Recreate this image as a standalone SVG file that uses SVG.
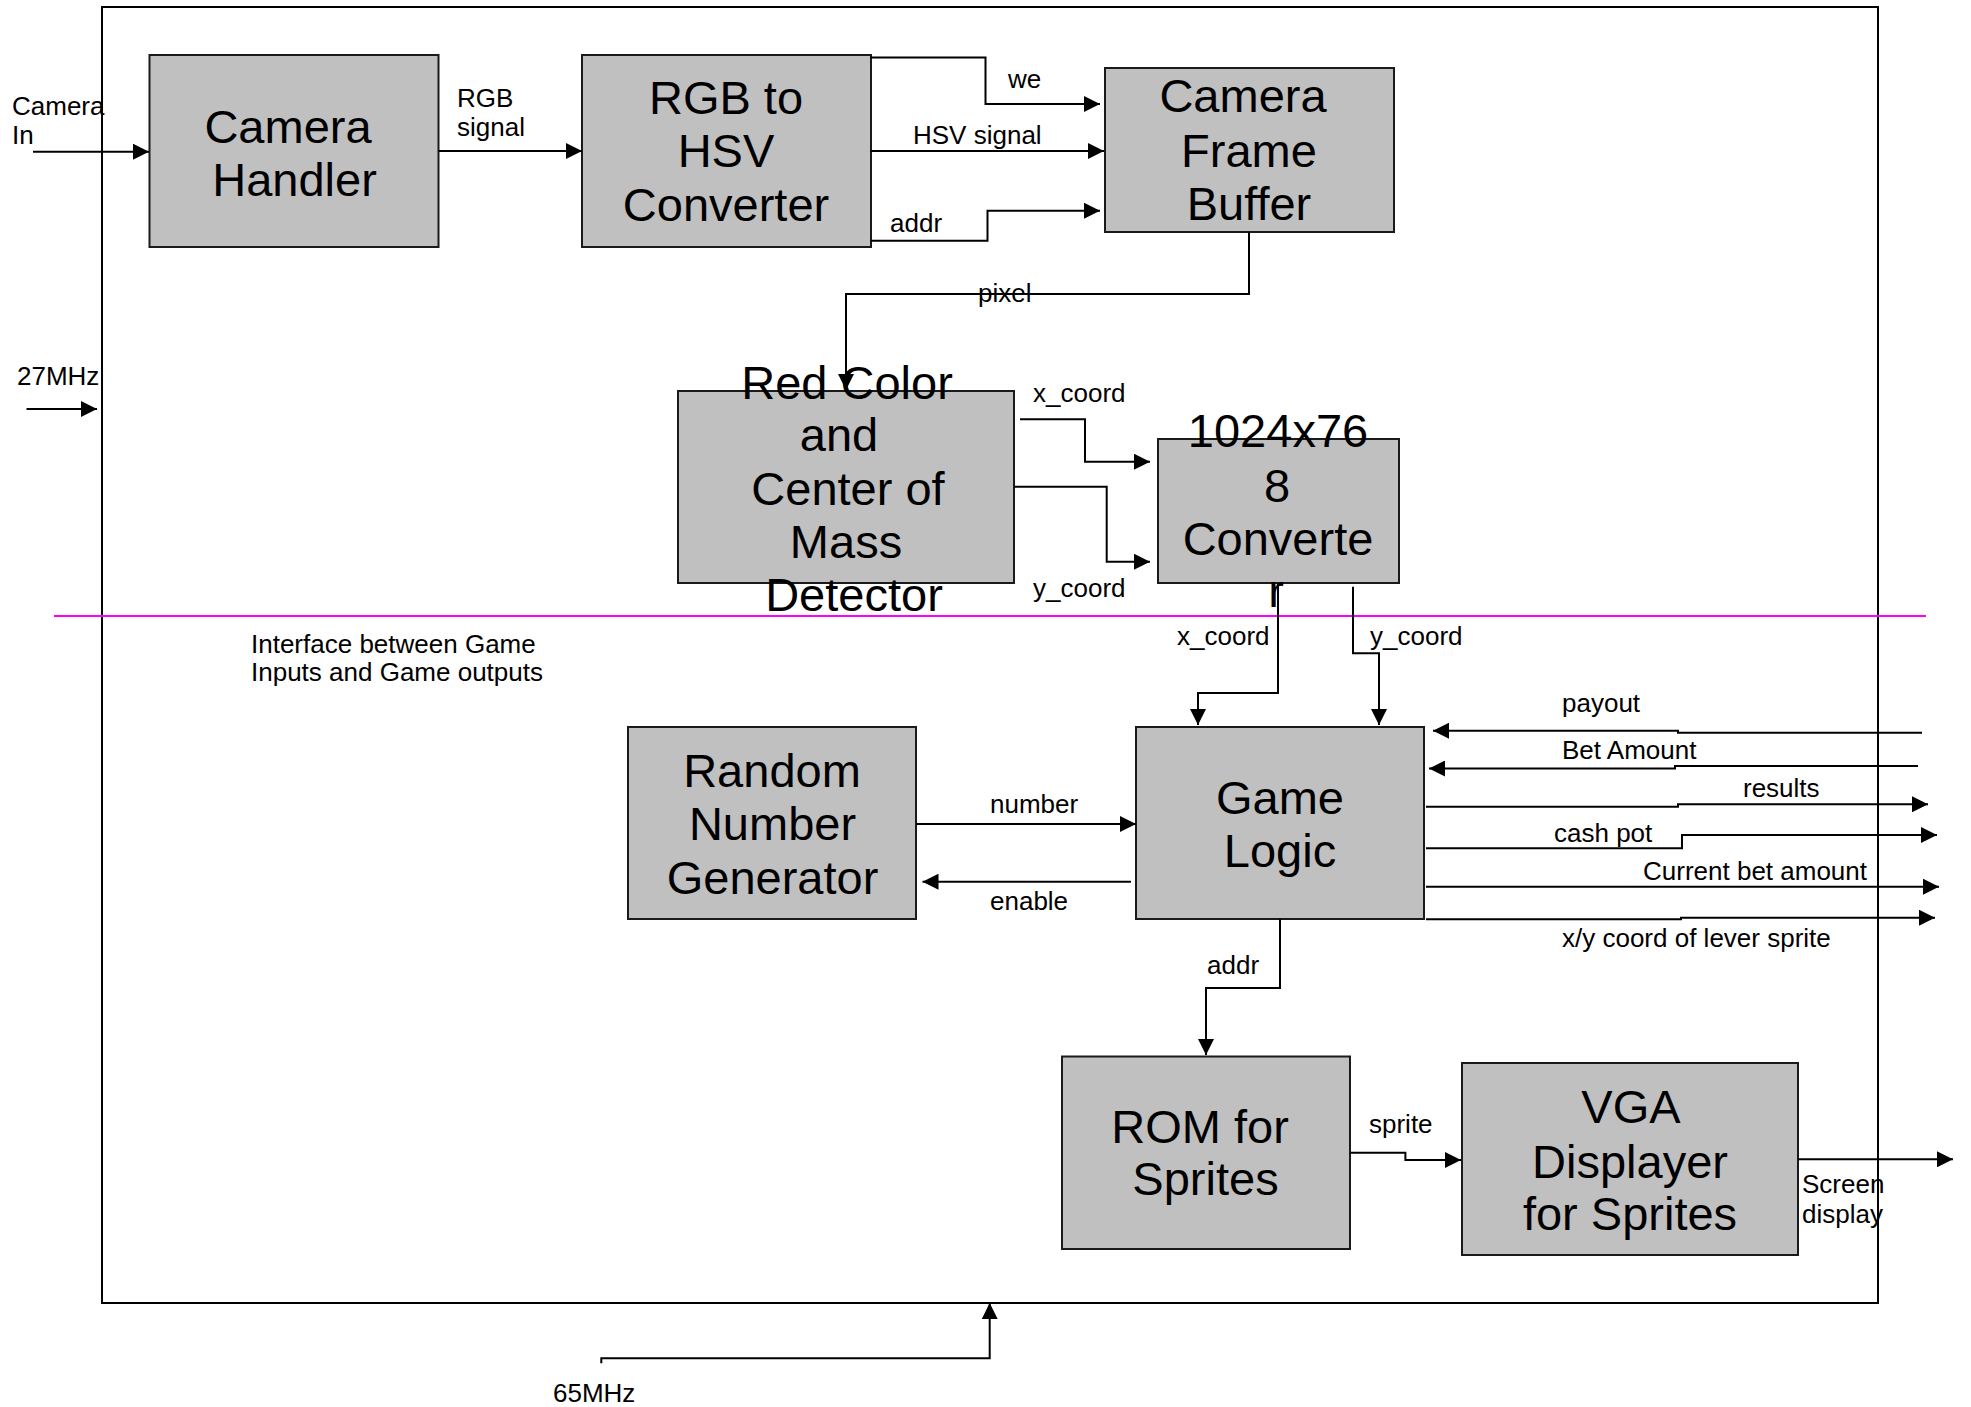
<svg xmlns="http://www.w3.org/2000/svg" width="1971" height="1407" viewBox="0 0 1971 1407">
<style>
.box{fill:#c0c0c0;stroke:#1a1a1a;stroke-width:2}
.big{font-family:"Liberation Sans",Arial,sans-serif;font-size:47px;fill:#000;text-anchor:middle}
.lbl{font-family:"Liberation Sans",Arial,sans-serif;font-size:26px;fill:#000}
.wire{fill:none;stroke:#000;stroke-width:2}
.arr{marker-end:url(#ah)}
</style>
<defs>
<marker id="ah" markerUnits="userSpaceOnUse" markerWidth="16" markerHeight="16" refX="15" refY="7.5" orient="auto" viewBox="0 0 15 15">
<path d="M0,0 L15,7.5 L0,15 z" fill="#000"/>
</marker>
</defs>
<rect width="1971" height="1407" fill="#fff"/>
<g id="frame">
<rect x="102" y="7" width="1776" height="1296" fill="none" stroke="#000" stroke-width="2"/>
</g>
<g id="divider">
<line x1="54" y1="616" x2="1926" y2="616" stroke="#ff00ff" stroke-width="2"/>
<text class="lbl" x="251" y="653">Interface between Game</text>
<text class="lbl" x="251" y="681">Inputs and Game outputs</text>
</g>
<g id="camera-handler">
<rect class="box" x="149.5" y="55" width="289" height="192"/>
<text class="big" x="288" y="143">Camera</text>
<text class="big" x="294.5" y="195.5">Handler</text>
</g>
<g id="rgb-hsv">
<rect class="box" x="582" y="55" width="289" height="192"/>
<text class="big" x="726" y="114">RGB to</text>
<text class="big" x="726" y="167">HSV</text>
<text class="big" x="726" y="220.5">Converter</text>
</g>
<g id="frame-buffer">
<rect class="box" x="1105" y="68" width="289" height="164"/>
<text class="big" x="1243" y="112">Camera</text>
<text class="big" x="1249" y="166.5">Frame</text>
<text class="big" x="1249" y="220">Buffer</text>
</g>
<g id="red-detector">
<rect class="box" x="678" y="391" width="336" height="192"/>
<text class="big" x="847" y="398.5">Red Color</text>
<text class="big" x="839" y="451">and</text>
<text class="big" x="848" y="504.5">Center of</text>
<text class="big" x="846" y="557.5">Mass</text>
<text class="big" x="854" y="610.5">Detector</text>
</g>
<g id="converter-1024">
<rect class="box" x="1158" y="439" width="241" height="144"/>
<text class="big" x="1278" y="446.5">1024x76</text>
<text class="big" x="1277" y="501.5">8</text>
<text class="big" x="1278" y="554.5">Converte</text>
<text class="big" x="1276" y="606.5">r</text>
</g>
<g id="rng">
<rect class="box" x="628" y="727" width="288" height="192"/>
<text class="big" x="772" y="786.5">Random</text>
<text class="big" x="772.5" y="840">Number</text>
<text class="big" x="772.5" y="893.5">Generator</text>
</g>
<g id="game-logic">
<rect class="box" x="1136" y="727" width="288" height="192"/>
<text class="big" x="1280" y="813.5">Game</text>
<text class="big" x="1280" y="866.5">Logic</text>
</g>
<g id="rom">
<rect class="box" x="1062" y="1056.5" width="288" height="192.5"/>
<text class="big" x="1200" y="1142.5">ROM for</text>
<text class="big" x="1205.5" y="1195">Sprites</text>
</g>
<g id="vga">
<rect class="box" x="1462" y="1063" width="336" height="192"/>
<text class="big" x="1631" y="1122.5">VGA</text>
<text class="big" x="1630" y="1177.5">Displayer</text>
<text class="big" x="1630" y="1229.5">for Sprites</text>
</g>
<g id="connectors">
<path class="wire arr" d="M33,151.7 H149"/>
<path class="wire arr" d="M438.5,151 H582"/>
<path class="wire arr" d="M870.5,57.5 H985.5 V104 H1100"/>
<path class="wire arr" d="M870.5,151 H1104"/>
<path class="wire arr" d="M870.5,240.7 H987.5 V210.7 H1100"/>
<path class="wire arr" d="M1249,232.3 V294 H846 V390"/>
<path class="wire arr" d="M26.5,409 H97"/>
<path class="wire arr" d="M1020,419.3 H1085 V461.7 H1150"/>
<path class="wire arr" d="M1014.3,486.7 H1106.7 V561.7 H1150"/>
<path class="wire arr" d="M1278,583.3 V693 H1198 V725"/>
<path class="wire arr" d="M1353,586.7 V653.3 H1379 V725"/>
<path class="wire arr" d="M1922,732.7 H1678 V730.7 H1433"/>
<path class="wire arr" d="M1918,766 H1675 V768.5 H1429"/>
<path class="wire arr" d="M1426,806.7 H1678 V804.3 H1928"/>
<path class="wire arr" d="M1426,848.3 H1682 V835 H1937"/>
<path class="wire arr" d="M1426,886.7 H1939"/>
<path class="wire arr" d="M1426,919.3 H1681 V917.7 H1935"/>
<path class="wire arr" d="M916.3,824 H1136"/>
<path class="wire arr" d="M1131,881.7 H922.5"/>
<path class="wire arr" d="M1280,919.3 V988 H1206 V1055"/>
<path class="wire arr" d="M1350.4,1152.7 H1405.4 V1160 H1461"/>
<path class="wire arr" d="M1798.3,1159.3 H1953"/>
<path class="wire arr" d="M601.3,1363.3 V1358.3 H989.7 V1303"/>
</g>
<g id="labels">
<text class="lbl" x="12" y="115">Camera</text>
<text class="lbl" x="12" y="144">In</text>
<text class="lbl" x="457" y="107">RGB</text>
<text class="lbl" x="457" y="136">signal</text>
<text class="lbl" x="1008" y="88">we</text>
<text class="lbl" x="913" y="144">HSV signal</text>
<text class="lbl" x="890" y="232">addr</text>
<text class="lbl" x="978" y="302">pixel</text>
<text class="lbl" x="17" y="385">27MHz</text>
<text class="lbl" x="1033" y="402">x_coord</text>
<text class="lbl" x="1033" y="597">y_coord</text>
<text class="lbl" x="1177" y="645">x_coord</text>
<text class="lbl" x="1370" y="645">y_coord</text>
<text class="lbl" x="1562" y="712">payout</text>
<text class="lbl" x="1562" y="759">Bet Amount</text>
<text class="lbl" x="1743" y="797">results</text>
<text class="lbl" x="1554" y="842">cash pot</text>
<text class="lbl" x="1643" y="880">Current bet amount</text>
<text class="lbl" x="1562" y="947">x/y coord of lever sprite</text>
<text class="lbl" x="990" y="813">number</text>
<text class="lbl" x="990" y="910">enable</text>
<text class="lbl" x="1207" y="974">addr</text>
<text class="lbl" x="1369" y="1133">sprite</text>
<text class="lbl" x="1802" y="1193">Screen</text>
<text class="lbl" x="1802" y="1223">display</text>
<text class="lbl" x="553" y="1402">65MHz</text>
</g>
</svg>
